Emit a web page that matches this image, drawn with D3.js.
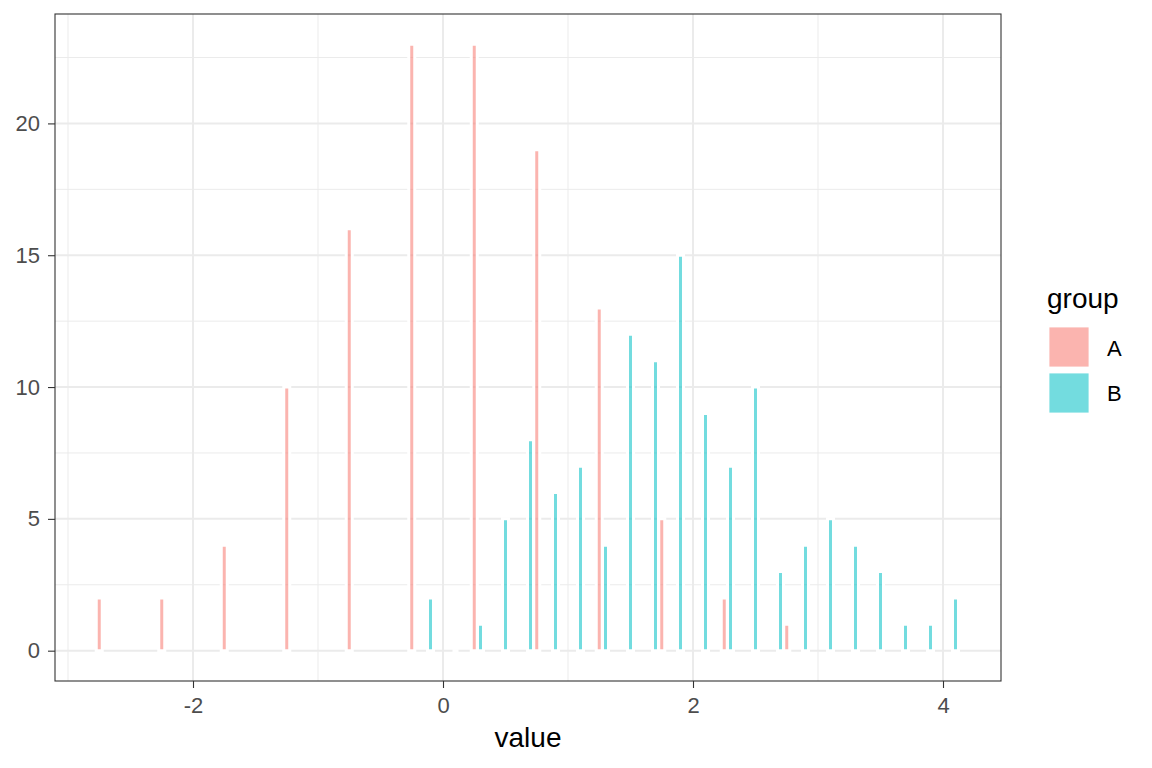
<!DOCTYPE html>
<html>
<head>
<meta charset="utf-8">
<script src="https://cdn.jsdelivr.net/npm/d3@7"></script>
<style>
  body { margin: 0; background: #fff; }
  text { font-family: "Liberation Sans", Arial, sans-serif; }
</style>
</head>
<body>
<svg id="chart" width="1152" height="768"></svg>
<script>
// histogram bins, group A (binwidth 0.5)
var binsA = [-2.75, -2.25, -1.75, -1.25, -0.75, -0.25, 0.25, 0.75, 1.25, 1.75, 2.25, 2.75];
var countsA = [2, 2, 4, 10, 16, 23, 23, 19, 13, 5, 2, 1];
// group B (binwidth 0.2)
var binsB = [-0.1, 0.1, 0.3, 0.5, 0.7, 0.9, 1.1, 1.3, 1.5, 1.7, 1.9, 2.1, 2.3, 2.5, 2.7, 2.9, 3.1, 3.3, 3.5, 3.7, 3.9, 4.1];
var countsB = [2, 0, 1, 5, 8, 6, 7, 4, 12, 11, 15, 9, 7, 10, 3, 4, 5, 4, 3, 1, 1, 2];
var groups = ["A", "B"];
var groupColors = ["#F8766D", "#00BFC4"];
var xTicks = [-2, 0, 2, 4];
var xMinor = [-3, -1, 1, 3];
var yTicks = [0, 5, 10, 15, 20];
var yMinor = [2.5, 7.5, 12.5, 17.5, 22.5];

var svg = d3.select("#chart");
var panel = {left: 55, top: 14, right: 1001, bottom: 681};

var x = d3.scaleLinear().domain([-3.104, 4.464]).range([panel.left, panel.right]);
var y = d3.scaleLinear().domain([-1.15, 24.15]).range([panel.bottom, panel.top]);

var data = [];
binsA.forEach(function(b, i) { data.push({group: "A", x: b, n: countsA[i]}); });
binsB.forEach(function(b, i) { data.push({group: "B", x: b, n: countsB[i]}); });

var color = d3.scaleOrdinal().domain(groups).range(groupColors);

// grid
var g = svg.append("g");
g.selectAll(".minx").data(xMinor).enter().append("line")
  .attr("x1", d => x(d)).attr("x2", d => x(d))
  .attr("y1", panel.top).attr("y2", panel.bottom)
  .attr("stroke", "#EBEBEB").attr("stroke-width", 1);
g.selectAll(".miny").data(yMinor).enter().append("line")
  .attr("y1", d => y(d)).attr("y2", d => y(d))
  .attr("x1", panel.left).attr("x2", panel.right)
  .attr("stroke", "#EBEBEB").attr("stroke-width", 1);
g.selectAll(".majx").data(xTicks).enter().append("line")
  .attr("x1", d => x(d)).attr("x2", d => x(d))
  .attr("y1", panel.top).attr("y2", panel.bottom)
  .attr("stroke", "#EBEBEB").attr("stroke-width", 2);
g.selectAll(".majy").data(yTicks).enter().append("line")
  .attr("y1", d => y(d)).attr("y2", d => y(d))
  .attr("x1", panel.left).attr("x2", panel.right)
  .attr("stroke", "#EBEBEB").attr("stroke-width", 2);

// bars (paths so that empty bins still draw their white outline)
var bw = 0.048;
svg.append("g").selectAll("path").data(data).enter().append("path")
  .attr("d", function(d) {
    var x0 = x(d.x - bw / 2), x1 = x(d.x + bw / 2);
    return "M" + x0 + "," + y(0) + "H" + x1 + "V" + y(d.n) + "H" + x0 + "Z";
  })
  .attr("fill", d => color(d.group))
  .attr("fill-opacity", 0.55)
  .attr("stroke", "#fff")
  .attr("stroke-width", 3);

// panel border
svg.append("rect")
  .attr("x", panel.left).attr("y", panel.top)
  .attr("width", panel.right - panel.left).attr("height", panel.bottom - panel.top)
  .attr("fill", "none").attr("stroke", "#333").attr("stroke-width", 1.1);

// axes
var xAxis = svg.append("g").attr("transform", "translate(0," + panel.bottom + ")")
  .call(d3.axisBottom(x).tickValues(xTicks).tickSize(7).tickPadding(9).tickFormat(d3.format("d")));
var yAxis = svg.append("g").attr("transform", "translate(" + panel.left + ",0)")
  .call(d3.axisLeft(y).tickValues(yTicks).tickSize(7).tickPadding(8));
[xAxis, yAxis].forEach(function(a) {
  a.select(".domain").remove();
  a.selectAll("line").attr("stroke", "#333").attr("stroke-width", 1.1);
  a.selectAll("text").attr("fill", "#4D4D4D").style("font-size", "22px")
    .style("font-family", "'Liberation Sans', Arial, sans-serif");
});
xAxis.selectAll("text").text(d => d < 0 ? "-" + Math.abs(d) : d);

svg.append("text").attr("x", (panel.left + panel.right) / 2).attr("y", 747)
  .attr("text-anchor", "middle").style("font-size", "28px").attr("fill", "#000").text("value");

// legend
var lg = svg.append("g");
lg.append("text").attr("x", 1047).attr("y", 308).style("font-size", "28px").text("group");
groups.forEach(function(k, i) {
  lg.append("rect").attr("x", 1049).attr("y", 327 + i * 46).attr("width", 40).attr("height", 40)
    .attr("fill", color(k)).attr("fill-opacity", 0.55).attr("stroke", "#fff").attr("stroke-width", 0.8);
  lg.append("text").attr("x", 1107).attr("y", 356 + i * 45).style("font-size", "22px").text(k);
});
</script>
</body>
</html>
